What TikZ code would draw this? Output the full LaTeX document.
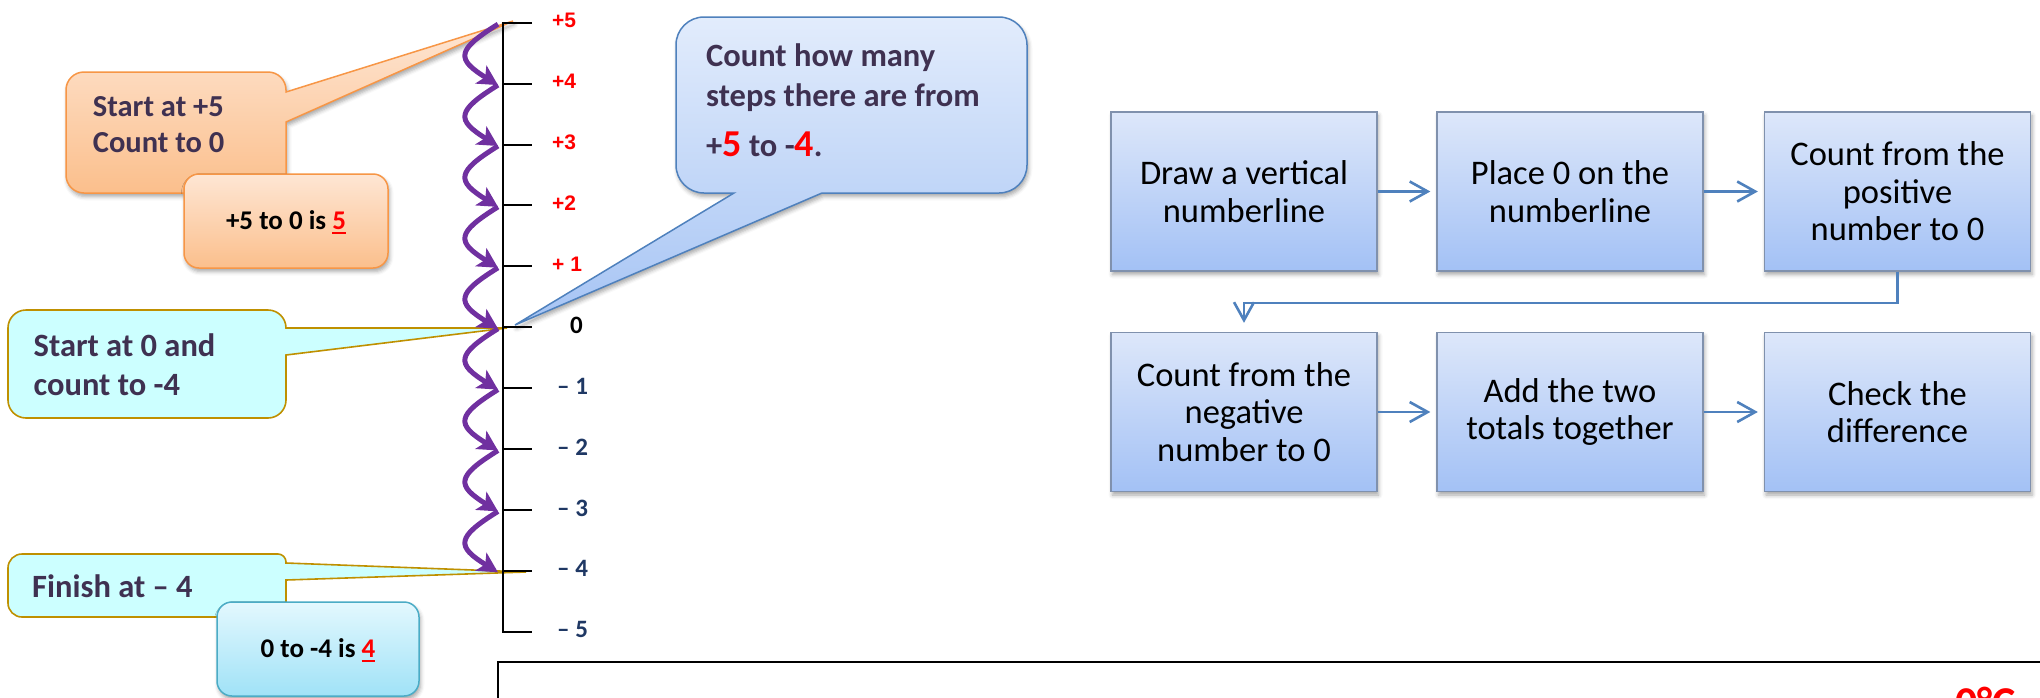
\documentclass[tikz,border=0pt]{standalone}
\usepackage{fontspec}
\setmainfont{Carlito}
\newfontfamily\arialfont{Liberation Sans}
\usetikzlibrary{arrows.meta,calc,shadows.blur}

\definecolor{txtpurple}{HTML}{3F3151}
\definecolor{navy}{HTML}{1F3864}
\definecolor{hoppurple}{HTML}{7030A0}
\definecolor{orangeline}{HTML}{F79646}
\definecolor{orangetop}{HTML}{FEE6D4}
\definecolor{orangebot}{HTML}{FBBF8C}
\definecolor{cyanfill}{HTML}{CCFFFF}
\definecolor{goldline}{HTML}{BF9000}
\definecolor{tealline}{HTML}{4BACC6}
\definecolor{aquatop}{HTML}{E3F8FE}
\definecolor{aquabot}{HTML}{A0E2F7}
\definecolor{blueline}{HTML}{4F81BD}
\definecolor{bluetop}{HTML}{E2ECFC}
\definecolor{bluebot}{HTML}{A6C4F4}
\definecolor{flowtop}{HTML}{DDE7FA}
\definecolor{flowbot}{HTML}{A3C1F5}
\definecolor{flowline}{HTML}{8091AD}
\definecolor{alertred}{HTML}{FF0000}

% red underlined answer digit
\newcommand\redul[1]{{\color{alertred}\setbox0\hbox{#1}\rlap{\rule[-4.7pt]{\wd0}{2.4pt}}\box0}}

\tikzset{
  softshadow/.style={blur shadow={shadow xshift=1.5pt, shadow yshift=-3.5pt,
      shadow blur radius=4pt, shadow opacity=35}},
  axisline/.style={draw=black, line width=2pt},
  poslbl/.style={anchor=west, inner sep=0pt, text=alertred,
      font=\arialfont\bfseries\fontsize{21}{24}\selectfont},
  zerolbl/.style={anchor=west, inner sep=0pt, text=black,
      font=\bfseries\fontsize{25}{28}\selectfont},
  neglbl/.style={anchor=west, inner sep=0pt, text=navy,
      font=\bfseries\fontsize{25}{28}\selectfont},
  hop/.style={draw=hoppurple, line width=5pt,
      -{Stealth[length=20pt,width=21pt,inset=5pt]}},
  orangecall/.style={draw=orangeline, line width=1.5pt,
      top color=orangetop, bottom color=orangebot, softshadow},
  cyancall/.style={draw=goldline, line width=1.6pt, fill=cyanfill},
  bluecall/.style={draw=blueline, line width=1.5pt,
      top color=bluetop, bottom color=bluebot, softshadow},
  otext/.style={anchor=base west, inner sep=0pt, text=txtpurple,
      font=\bfseries\fontsize{30.5}{35}\selectfont},
  ctext/.style={anchor=base west, inner sep=0pt, text=txtpurple,
      font=\bfseries\fontsize{32.5}{37}\selectfont},
  btext/.style={anchor=base west, inner sep=0pt, text=txtpurple,
      font=\bfseries\fontsize{32.5}{38}\selectfont},
  resultbox/.style={rounded corners=15pt, line width=1.5pt, inner sep=0pt,
      text height=17pt, text depth=0pt, text=black,
      font=\bfseries\fontsize{27}{30}\selectfont, softshadow},
  flowbox/.style={draw=flowline, line width=1.3pt, top color=flowtop,
      bottom color=flowbot, minimum width=266pt, minimum height=159pt,
      inner sep=0pt, align=center, text=black,
      font=\fontsize{34.5}{37.5}\selectfont, softshadow},
  flowarrow/.style={draw=blueline, line width=2.6pt,
      -{Straight Barb[length=18pt,width=20pt,line width=2.6pt]}, shorten >=6pt},
}

\begin{document}
\begin{tikzpicture}[x=1pt,y=-1pt]
\useasboundingbox (0,0) rectangle (2040,697);

% ---- number line positions: n0 = +5 ... n10 = -5
\foreach \i in {0,...,10} {
  \coordinate (n\i) at (503,{22.7+60.9*\i});
  \coordinate (h\i) at ($(n\i)+(-5,1.5)$);
}

% tips of the speech-bubble pointers
\coordinate (tipA) at (513,21);
\coordinate (tipB) at (507,328);
\coordinate (tipC) at (526,572);
\coordinate (tipD) at (515,325);

% ---- callout: start at +5
\path[orangecall] (66,132) [rounded corners=18pt] -- (66,72) -- (286,72)
  [sharp corners] -- (286,92) -- (tipA) -- (286,122)
  [rounded corners=18pt] -- (286,193) -- (66,193) -- cycle;
\node[otext] (cA1) at (92.7,116) {Start at +5};
\node[otext] (cA2) at (92.7,152.3) {Count to 0};

\node[resultbox, draw=orangeline, top color=orangetop, bottom color=orangebot,
      minimum width=204pt, minimum height=94pt] (rA) at (286,221)
      {+5 to 0 is \redul{5}};

% ---- callout: start at 0
\path[cyancall] (8,364) [rounded corners=18pt] -- (8,310) -- (286,310)
  [sharp corners] -- (286,328) -- (tipB) -- (286,355)
  [rounded corners=18pt] -- (286,418) -- (8,418) -- cycle;
\node[ctext] (cB1) at (33.5,356) {Start at 0 and};
\node[ctext] (cB2) at (33.5,395.7) {count to -4};

% ---- callout: finish at -4
\path[cyancall] (8,585) [rounded corners=14pt] -- (8,554)
  [rounded corners=8pt] -- (286,554)
  [sharp corners] -- (286,563) -- (tipC) -- (286,580)
  [rounded corners=14pt] -- (286,617) -- (8,617) -- cycle;
\node[ctext] (cC1) at (32,597) {Finish at – 4};

\node[resultbox, draw=tealline, top color=aquatop, bottom color=aquabot,
      minimum width=202pt, minimum height=94pt] (rB) at (318,649)
      {0 to -4 is \redul{4}};

% ---- callout: question
\path[bluecall] (676,105) [rounded corners=28pt] -- (676,17) -- (1027,17)
  -- (1027,193) [sharp corners] -- (822,193) -- (tipD) -- (734,193)
  [rounded corners=28pt] -- (676,193) -- cycle;
\node[btext] (cD1) at (706,66.7) {Count how many};
\node[btext] (cD2) at (706,106.7) {steps there are from};
\node[btext] (cD3) at (706,156)
  {+\textcolor{alertred}{\fontsize{38}{40}\selectfont 5} to -\textcolor{alertred}{\fontsize{38}{40}\selectfont 4}.};

% ---- vertical number line
\draw[axisline] ($(n0)+(29,0)$) -- (n0) -- (n10) -- ++(29,0);
\foreach \i in {1,...,9} \draw[axisline] (n\i) -- ++(29,0);

\foreach \i/\t in {0/+5,1/+4,2/+3,3/+2,4/+ 1}
  \node[poslbl] (l\i) at ($(n\i)+(49,-2)$) {\t};
\node[zerolbl] (l5) at ($(n5)+(67,-2)$) {0};
\foreach \i/\t in {6/1,7/2,8/3,9/4,10/5}
  \node[neglbl] (l\i) at ($(n\i)+(54,-2)$) {– \t};

% ---- hops from +5 down to -4
\foreach \i [count=\j from 1] in {0,...,8}
  \draw[hop] (h\i) .. controls +(-42,26) and +(-42,-26) .. (h\j);

% ---- method flow chart
\node[flowbox] (b1) at (1244,191.5) {Draw a vertical\\numberline};
\node[flowbox] (b2) at (1570,191.5) {Place 0 on the\\numberline};
\node[flowbox] (b3) at (1897.5,191.5) {Count from the\\positive\\number to 0};
\node[flowbox] (b4) at (1244,412) {Count from the\\negative\\number to 0};
\node[flowbox] (b5) at (1570,412) {Add the two\\totals together};
\node[flowbox] (b6) at (1897.5,412) {Check the\\difference};

\draw[flowarrow] (b1) -- (b2);
\draw[flowarrow] (b2) -- (b3);
\draw[flowarrow] (b4) -- (b5);
\draw[flowarrow] (b5) -- (b6);
\draw[flowarrow, line width=2.2pt, shorten >=9pt] (b3.south) -- ++(0,31) -| (b4.north);

% ---- lower answer frame
\draw[line width=2pt] (498,662) rectangle (2070,760);
\node[anchor=base west, inner sep=0pt, text=alertred,
      font=\bfseries\fontsize{44}{50}\selectfont] (temp) at (1955,717) {0°C};
\end{tikzpicture}
\end{document}
